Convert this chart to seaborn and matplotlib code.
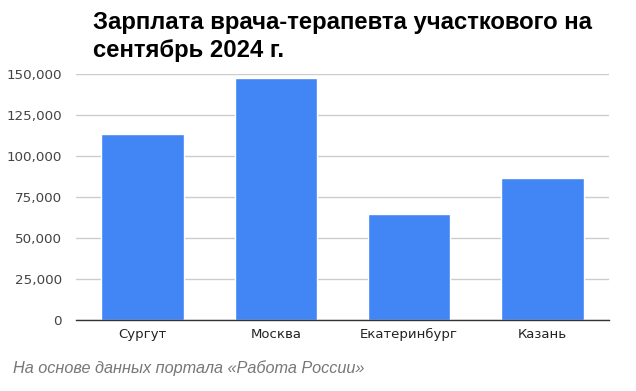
import pandas as pd
import matplotlib
matplotlib.use("Agg")
import matplotlib.pyplot as plt
import seaborn as sns
from matplotlib.ticker import FuncFormatter

# dados
cidades = ["Сургут", "Москва", "Екатеринбург", "Казань"]
salarios = [113400, 147500, 64600, 86600]
titulo = "Зарплата врача-терапевта участкового на\nсентябрь 2024 г."
fonte = "На основе данных портала «Работа России»"

df = pd.DataFrame({"cidade": cidades, "salario": salarios})

sns.set_style("white")
plt.rcParams['font.family'] = ['DejaVu Sans']

fig = plt.figure(figsize=(6.36, 3.91), dpi=100)
ax = fig.add_axes([76/636, 1-320/391, (609-76)/636, (320-74.3)/391])

sns.barplot(data=df, x="cidade", y="salario", color="#4285F4", width=0.62,
            saturation=1, ax=ax, zorder=3)

ax.set_ylim(0, 150000)
ax.set_yticks(range(0, 150001, 25000))
ax.yaxis.set_major_formatter(FuncFormatter(lambda v, p: f"{int(v):,}"))
ax.grid(axis="y", color="#cccccc", linewidth=1, zorder=0)
ax.set_xlabel("")
ax.set_ylabel("")
for s in ["top", "right", "left"]:
    ax.spines[s].set_visible(False)
ax.spines["bottom"].set_color("#333333")
ax.spines["bottom"].set_linewidth(1)
ax.spines["bottom"].set_zorder(4)
ax.tick_params(axis="y", length=0, labelsize=9.7, colors="#444444", pad=10)
ax.tick_params(axis="x", length=0, labelsize=9.5, colors="#222222", pad=6)

fig.text(93/636, 1-11/391, titulo, fontsize=17.2, fontweight="bold",
         family=["Liberation Sans"], va="top", ha="left", linespacing=1.28,
         color="black")
fig.text(13/636, 1-373/391, fonte, fontsize=11.7, style="italic",
         family=["Liberation Sans"], color="#777777", va="baseline")

plt.savefig("out.png", dpi=100)
plt.close()
